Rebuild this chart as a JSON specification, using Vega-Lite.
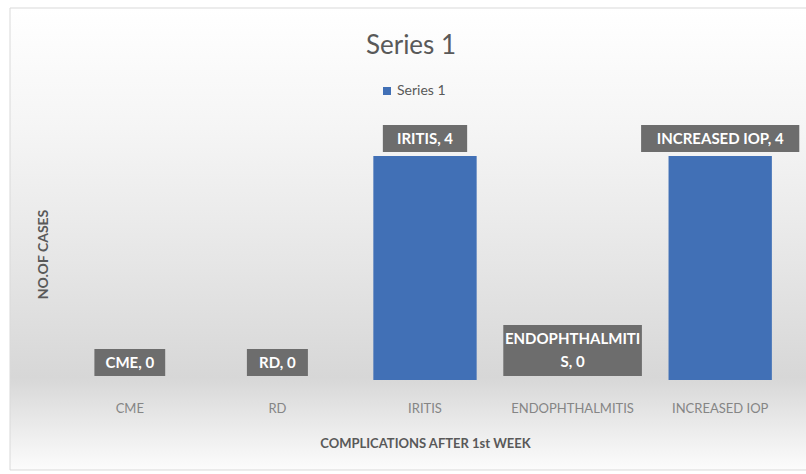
{
  "$schema": "https://vega.github.io/schema/vega-lite/v6.json",
  "autosize": {"type": "none"},
  "width": 738,
  "height": 252,
  "padding": {"left": 56, "top": 128, "right": 12, "bottom": 94},
  "background": "#ffffff",
  "config": {
    "view": {"stroke": null},
    "font": "Lato",
    "mark": {"lineBreak": "\n"}
  },
  "title": {
    "text": "Series 1",
    "fontSize": 26,
    "fontWeight": "normal",
    "font": "Lato",
    "color": "#595959",
    "baseline": "alphabetic",
    "offset": -72,
    "dx": -14,
    "anchor": "middle"
  },
  "data": {
    "values": [
      {"category": "CME", "cases": 0, "label": "CME, 0", "series": "Series 1"},
      {"category": "RD", "cases": 0, "label": "RD, 0", "series": "Series 1"},
      {"category": "IRITIS", "cases": 4, "label": "IRITIS, 4", "series": "Series 1"},
      {"category": "ENDOPHTHALMITIS", "cases": 0, "label": "ENDOPHTHALMITI\nS, 0", "series": "Series 1"},
      {"category": "INCREASED IOP", "cases": 4, "label": "INCREASED IOP, 4", "series": "Series 1"}
    ]
  },
  "layer": [
    {
      "data": {"values": [{"bg": 1}]},
      "mark": {
        "type": "rect",
        "zindex": 0,
        "xOffset": -46,
        "x2Offset": 14,
        "yOffset": 90,
        "y2Offset": -120,
        "stroke": "#d9d9d9",
        "strokeWidth": 1,
        "color": {
          "gradient": "linear",
          "x1": 0, "y1": 0, "x2": 0, "y2": 1,
          "stops": [
            {"offset": 0, "color": "#ffffff"},
            {"offset": 0.26, "color": "#f5f5f5"},
            {"offset": 0.55, "color": "#e6e6e6"},
            {"offset": 0.8, "color": "#d7d7d7"},
            {"offset": 1, "color": "#fcfcfc"}
          ]
        }
      },
      "encoding": {
        "x": {"value": 0},
        "x2": {"value": "width"},
        "y": {"datum": 0, "type": "quantitative", "scale": {"domain": [0, 4.5], "nice": false, "zero": true}},
        "y2": {"datum": 4.5}
      }
    },
    {
      "mark": {"type": "bar", "zindex": 2},
      "encoding": {
        "x": {
          "field": "category",
          "type": "nominal",
          "sort": null,
          "scale": {"paddingInner": 0.3, "paddingOuter": 0.15},
          "axis": {
            "title": "COMPLICATIONS AFTER 1st WEEK",
            "titleFontSize": 13,
            "titleFontWeight": "bold",
            "titleColor": "#595959",
            "titlePadding": 22,
            "labelAngle": 0,
            "labelFontSize": 13,
            "labelColor": "#858585",
            "labelPadding": 22,
            "ticks": false,
            "domain": false,
            "zindex": 1
          }
        },
        "y": {
          "field": "cases",
          "type": "quantitative",
          "scale": {"domain": [0, 4.5], "nice": false},
          "axis": {
            "title": "NO.OF CASES",
            "titleFontSize": 14,
            "titleFontWeight": "bold",
            "titleColor": "#595959",
            "titlePadding": 6,
            "labels": false,
            "ticks": false,
            "domain": false,
            "values": [0.5, 1, 1.5, 2, 2.5, 3, 3.5, 4, 4.5],
            "gridColor": "#dedede",
            "zindex": 1
          }
        },
        "color": {
          "field": "series",
          "type": "nominal",
          "scale": {"range": ["#4170b6"]},
          "legend": {
            "title": null,
            "orient": "none",
            "legendX": 324,
            "legendY": -44,
            "symbolType": "square",
            "symbolSize": 64,
            "labelFontSize": 14,
            "labelColor": "#595959",
            "labelFont": "Lato",
            "labelOffset": 3
          }
        }
      }
    },
    {
      "mark": {
        "type": "rect",
        "zindex": 3,
        "color": "#6d6d6d",
        "width": {"expr": "9.8 * (length(split(datum.label, '\\n')[0]) - length(split(split(datum.label, '\\n')[0], 'I')) + 1) + 4.5 * (length(split(split(datum.label, '\\n')[0], 'I')) - 1) + 12"},
        "yOffset": -4,
        "y2Offset": {"expr": "-(4 + length(split(datum.label, '\\n')) * 24 + 3)"}
      },
      "encoding": {
        "x": {"field": "category", "type": "nominal", "sort": null},
        "y": {"field": "cases", "type": "quantitative"},
        "y2": {"field": "cases"}
      }
    },
    {
      "mark": {
        "type": "text",
        "zindex": 4,
        "color": "#ffffff",
        "fontWeight": "bold",
        "fontSize": 15,
        "font": "Lato",
        "baseline": "middle",
        "lineHeight": 23,
        "dy": {"expr": "-(4 + (length(split(datum.label, '\\n')) * 24 + 3) / 2) - (length(split(datum.label, '\\n')) - 1) * 11.5"}
      },
      "encoding": {
        "x": {"field": "category", "type": "nominal", "sort": null},
        "y": {"field": "cases", "type": "quantitative"},
        "text": {"field": "label"}
      }
    }
  ]
}
